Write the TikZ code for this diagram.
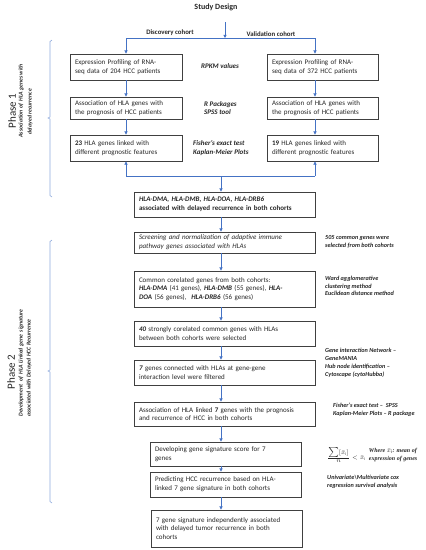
\documentclass[tikz,border=0pt]{standalone}
\usepackage{fontspec}
\setmainfont{Carlito}
\newfontfamily\serf{Liberation Serif}
\usetikzlibrary{arrows.meta,calc}
\definecolor{arrc}{HTML}{4472C4}
\definecolor{brc}{HTML}{8FAADC}
\definecolor{boxc}{HTML}{404040}
\definecolor{txt}{HTML}{262626}
\newcommand{\bi}[1]{\textbf{\textit{#1}}}
\begin{document}
\begin{tikzpicture}[x=1pt,y=-1pt,
  box/.style={draw=boxc, line width=0.8pt, inner xsep=5pt, inner ysep=1pt, align=left, text=txt,
     font=\fontsize{7}{8.8}\selectfont},
  arr/.style={-{Triangle[length=3.2pt,width=3.2pt]}, draw=arrc, line width=0.7pt},
  note/.style={font=\fontsize{6.2}{7.8}\selectfont\bfseries\itshape, align=left, anchor=west, inner sep=0pt, text=txt},
  mid/.style={font=\fontsize{7}{8.6}\selectfont\bfseries\itshape, align=left, inner sep=0pt, text=txt},
  coh/.style={font=\fontsize{6.8}{8}\selectfont\bfseries, inner sep=0pt, text=txt},
  phase/.style={font=\fontsize{11}{12}\selectfont, rotate=90, inner sep=0pt, text=txt},
  psub/.style={font=\fontsize{5.8}{6.5}\selectfont\bfseries\itshape, rotate=90, inner sep=0pt, text=txt},
  brace/.style={draw=brc, line width=0.6pt}
]
\useasboundingbox (0,0) rectangle (426,550);

% title
\node[font=\fontsize{8}{9}\selectfont\bfseries, text=txt, inner sep=0pt] (title) at (216,7) {Study Design};
\coordinate (top) at (225,22);
\coordinate (split) at (225,38);
\coordinate (lx) at (126,38);
\coordinate (rx) at (315,38);
\coordinate (mx) at (221,0);

% phase 1 boxes
\node[box, minimum width=112pt, minimum height=26pt, text width=102pt] (l1) at (126,67) {Expression Profiling of RNA-\\seq data of 204 HCC patients};
\node[box, minimum width=111pt, minimum height=26pt, text width=101pt] (r1) at (322.5,67) {Expression Profiling of RNA-\\seq data of 372 HCC patients};
\node[box, minimum width=112pt, minimum height=22pt, text width=102pt] (l2) at (126,108) {Association of HLA genes with\\the prognosis of HCC patients};
\node[box, minimum width=111pt, minimum height=22pt, text width=101pt] (r2) at (322.5,108) {Association of HLA genes with\\the prognosis of HCC patients};
\node[box, minimum width=112pt, minimum height=26pt, text width=102pt] (l3) at (126,148) {\textbf{23} HLA genes linked with\\different prognostic features};
\node[box, minimum width=111pt, minimum height=26pt, text width=101pt] (r3) at (322.5,148) {\textbf{19} HLA genes linked with\\different prognostic features};

\node[mid] (m1) at (220,66) {RPKM values};
\node[mid, anchor=west] (m2) at (204,108) {R Packages\\SPSS tool};
\node[mid, anchor=west] (m3) at (193,148) {Fisher's exact test\\Kaplan-Meier Plots};

\node[coh] (dc) at (170,33) {Discovery cohort};
\node[coh] (vc) at (271,34) {Validation cohort};

% phase 2 chain
\node[box, minimum width=181pt, minimum height=25pt, text width=171pt] (b4) at (224.5,204.5) {\bi{HLA-DMA, HLA-DMB, HLA-DOA, HLA-DRB6}\\\textbf{associated with delayed recurrence in both cohorts}};
\node[box, minimum width=181pt, minimum height=21pt, text width=171pt] (b5) at (224.5,242.5) {\textit{Screening and normalization of adaptive immune}\\\textit{pathway genes associated with HLAs}};
\node[box, minimum width=181pt, minimum height=36pt, text width=171pt] (b6) at (224.5,289) {Common corelated genes from both cohorts:\\\bi{HLA-DMA} (41 genes), \bi{HLA-DMB} (55 genes), \bi{HLA-}\\\bi{DOA} (56 genes), \ \bi{HLA-DRB6} (56 genes)};
\node[box, minimum width=181pt, minimum height=25pt, text width=171pt] (b7) at (224.5,333.5) {\bi{40} strongly corelated common genes with HLAs\\between both cohorts were selected};
\node[box, minimum width=181pt, minimum height=25pt, text width=171pt] (b8) at (224.5,372.5) {\bi{7} genes connected with HLAs at gene-gene\\interaction level were filtered};
\node[box, minimum width=181pt, minimum height=24pt, text width=171pt] (b9) at (224.5,414) {Association of HLA linked \textbf{7} genes with the prognosis\\and recurrence of HCC in both cohorts};
\node[box, minimum width=151pt, minimum height=24pt, text width=141pt] (b10) at (225.5,454) {Developing gene signature score for 7\\genes};
\node[box, minimum width=151pt, minimum height=25pt, text width=141pt] (b11) at (225.5,484.5) {Predicting HCC recurrence based on HLA-\\linked 7 gene signature in both cohorts};
\node[box, minimum width=151pt, minimum height=37pt, text width=141pt] (b12) at (226.5,528.5) {7 gene signature independently associated\\with delayed tumor recurrence in both\\cohorts};

% right notes
\node[note] (n5) at (325,242) {505 common genes were\\selected from both cohorts};
\node[note] (n6) at (325,286) {Ward agglomerative\\clustering method\\Euclidean distance method};
\node[note] (n8) at (325,363) {Gene interaction Network --\\GeneMANIA\\Hub node identification --\\Cytoscape (cytoHubba)};
\node[note] (n9) at (333,410) {Fisher's exact test -- \ SPSS\\Kaplan-Meier Plots -- R package};
\node[inner sep=0pt, anchor=west, text=txt, font=\fontsize{5.6}{6.5}\selectfont] (n10) at (327,455) {$\frac{\textstyle{\sum}[\bar{x}_{\mathrm{i}}]}{\textstyle n}<\bar{x}_{\mathrm{i}}$};
\node[inner sep=0pt, anchor=west, text=txt, align=left, font=\serf\bfseries\itshape\fontsize{6}{8}\selectfont] (n10b) at ([xshift=3pt]n10.east) {Where $\bar{x}_{\mathrm{i}}$: mean of\\expression of genes};
\node[note] (n11) at (327,482) {Univariate\textbackslash Multivariate cox\\regression survival analysis};

% phase labels
\node[phase] (p1) at (12,111) {Phase 1};
\node[psub] (p1a) at (21,101) {Association of \ HLA genes with};
\node[psub] (p1b) at (30,112) {delayed recurrence};
\node[phase] (p2) at (11,372) {Phase 2};
\node[psub] (p2a) at (21,363) {Development \ of \ HLA Linked gene \ signature};
\node[psub] (p2b) at (29,368) {associated with Delayed HCC Recurrence};

% braces
\draw[brace] (52,40) -- (50,41.5) -- (50,117) -- (48,118) -- (50,119) -- (50,195.5) -- (52,197);
\draw[brace] (52,240) -- (50,241.5) -- (50,370) -- (48,371) -- (50,372) -- (50,501.5) -- (52,503);

% connectors
\draw[arr] (top) -- (split);
\draw[arrc, line width=0.7pt] (lx) -- (rx);
\draw[arr] (lx) -- (l1.north);
\draw[arr] (rx) -- (r1.north -| rx);
\draw[arr] (l1) -- (l2);
\draw[arr] (r1.south -| rx) -- (r2.north -| rx);
\draw[arr] (l2) -- (l3);
\draw[arr] (r2.south -| rx) -- (r3.north -| rx);
\coordinate (jl) at (126,176);
\coordinate (jr) at (315,176);
\draw[arr] (jl) -- (l3.south);
\draw[arr] (jr) -- (r3.south -| jr);
\draw[arrc, line width=0.7pt] (jl) -- (jr);
\draw[arr] (jl -| mx) -- (b4.north -| mx);
\draw[arr] (b4.south -| mx) -- (b5.north -| mx);
\draw[arr] (b5.south -| mx) -- (b6.north -| mx);
\draw[arr] (b6.south -| mx) -- (b7.north -| mx);
\draw[arr] (b7.south -| mx) -- (b8.north -| mx);
\draw[arr] (b8.south -| mx) -- (b9.north -| mx);
\draw[arr] (b9.south -| mx) -- (b10.north -| mx);
\draw[arr] (b10.south -| mx) -- (b11.north -| mx);
\draw[arr] (b11.south -| mx) -- (b12.north -| mx);
\end{tikzpicture}
\end{document}
